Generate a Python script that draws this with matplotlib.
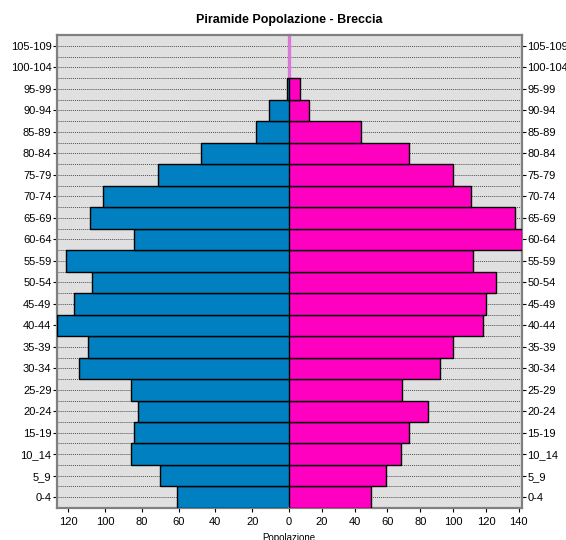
import matplotlib
matplotlib.use("Agg")
import matplotlib.pyplot as plt
from matplotlib.ticker import MultipleLocator

# fasce d'eta dal basso verso l'alto
eta = ['0-4', '5_9', '10_14', '15-19', '20-24', '25-29', '30-34', '35-39', '40-44',
       '45-49', '50-54', '55-59', '60-64', '65-69', '70-74', '75-79', '80-84',
       '85-89', '90-94', '95-99', '100-104', '105-109']
maschi = [61, 70, 86, 84, 82, 86, 114, 109, 126, 117, 107, 121, 84, 108, 101, 71,
          48, 18, 11, 1, 0, 0]
femmine = [50, 59, 68, 73, 85, 69, 92, 100, 118, 120, 126, 112, 142, 138, 111, 100,
           73, 44, 12, 7, 0, 0]
ticks_m = [20, 40, 60, 80, 100, 120]
ticks_f = [0, 20, 40, 60, 80, 100, 120, 140]

plt.rcParams['font.family'] = ['Liberation Sans', 'DejaVu Sans']

blu = '#0080C0'
rosa = '#FF00C0'
sfondo = '#E0E0E0'
bordo = '#808080'

fig = plt.figure(figsize=(5.66, 5.40), dpi=100)
bottom, height = 0.0593, 0.8757
axL = fig.add_axes([0.1007, bottom, 0.4099, height])
axR = fig.add_axes([0.5106, bottom, 0.4117, height])

y = list(range(len(eta)))

for ax, vals, col in [(axL, maschi, blu), (axR, femmine, rosa)]:
    ax.set_facecolor(sfondo)
    # niente bordo per le barre vuote, altrimenti coprono la linea dello zero
    edges = ['black' if v > 0 else 'none' for v in vals]
    ax.barh(y, vals, height=1.0, color=col, edgecolor=edges, linewidth=1.0, zorder=3)
    ax.set_ylim(-0.5, len(eta) - 0.5)
    ax.yaxis.set_major_locator(MultipleLocator(1))
    ax.yaxis.set_minor_locator(MultipleLocator(0.5))
    ax.grid(True, axis='y', which='both', color='#505050', linestyle=(0, (1, 1)),
            linewidth=0.7, zorder=1)
    ax.tick_params(axis='both', labelsize=8, colors='black', length=3, width=0.8)
    ax.tick_params(axis='y', which='minor', length=0)
    for s in ax.spines.values():
        s.set_color(bordo)
        s.set_linewidth(1.6)
    # linea dello zero: meta' in ciascun asse, sotto le barre
    ax.axvline(0, color='#D878D8', linewidth=2.4, zorder=2)

axL.set_xlim(max(maschi), 0)
axR.set_xlim(0, max(femmine))
axL.set_xticks(ticks_m)
axR.set_xticks(ticks_f)

axL.set_yticks(y)
axL.set_yticklabels(eta)
axR.set_yticks(y)
axR.set_yticklabels(eta)
axR.yaxis.tick_right()
axR.tick_params(axis='y', which='minor', length=0)
axR.tick_params(axis='y', pad=1)
axL.tick_params(axis='y', pad=1)

axL.spines['right'].set_visible(False)
axR.spines['left'].set_visible(False)

fig.text(0.5106, 1 - 20 / 540, 'Piramide Popolazione - Breccia', ha='center', va='center',
         fontsize=9, fontweight='bold')
fig.text(0.5106, 1 - 533 / 540, 'Popolazione', ha='center', va='top', fontsize=7)

fig.savefig('out.png', dpi=100)
